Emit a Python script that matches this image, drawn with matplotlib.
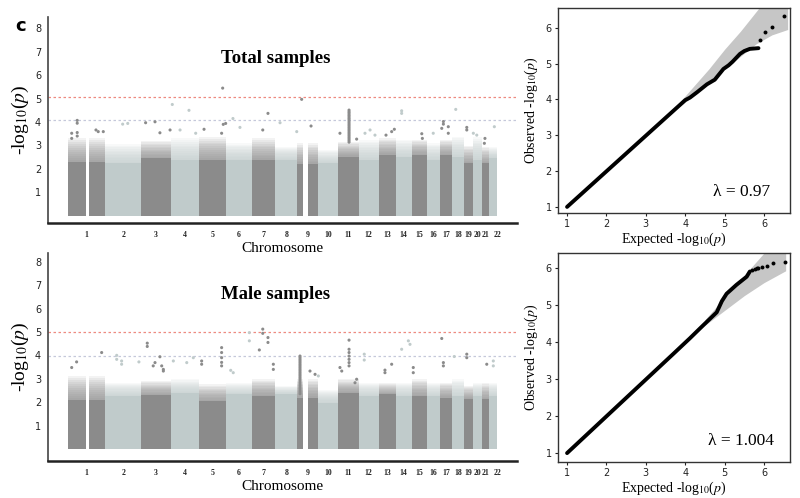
import numpy as np
import matplotlib
matplotlib.use('Agg')
import matplotlib.pyplot as plt

plt.rcParams['mathtext.fontset'] = 'stix'

# chromosome sizes (Mb) and centromere gaps without markers
chrom_names = ['1', '2', '3', '4', '5', '6', '7', '8', '9', '10', '11',
               '12', '13', '14', '15', '16', '17', '18', '19', '20', '21', '22']
chrom_len = [249, 243, 198, 191, 181, 171, 159, 146, 141, 136, 135,
             134, 115, 107, 103, 90, 81, 78, 59, 63, 48, 51]
chrom_gaps = {1: (122, 143), 9: (39, 70)}

# height of the dense bulk of SNPs per chromosome (solid part, then thinning part)
total_solid = [2.3, 2.24, 2.45, 2.38, 2.38, 2.38, 2.38, 2.38, 2.2, 2.23, 2.52,
               2.38, 2.6, 2.5, 2.6, 2.38, 2.6, 2.5, 2.23, 2.38, 2.23, 2.45]
total_fuzzy = [3.3, 3.05, 3.2, 3.3, 3.37, 3.09, 3.3, 2.94, 3.1, 2.8, 3.15,
               3.23, 3.3, 3.23, 3.23, 3.09, 3.23, 3.37, 2.98, 3.37, 2.94, 2.94]
male_solid = [2.1, 2.26, 2.3, 2.4, 2.05, 2.33, 2.26, 2.33, 2.2, 1.98, 2.4,
              2.26, 2.33, 2.26, 2.26, 2.26, 2.2, 2.26, 2.12, 2.26, 2.12, 2.26]
male_fuzzy = [3.1, 2.83, 2.9, 2.98, 2.76, 2.83, 2.98, 2.69, 2.98, 2.54, 2.98,
              2.83, 2.83, 2.83, 2.98, 2.83, 2.83, 2.98, 2.69, 2.83, 2.83, 2.83]

# isolated SNPs above the bulk: (chromosome, position Mb, -log10 p)
total_hits = [
    (1, 25, 3.52), (1, 25, 3.3), (1, 62, 4.07), (1, 62, 3.95), (1, 62, 3.55), (1, 62, 3.4),
    (1, 188, 3.66), (1, 203, 3.59), (1, 237, 3.59), (2, 118, 3.91), (2, 152, 3.94),
    (3, 29, 3.97), (3, 92, 4.01), (3, 125, 3.54), (3, 193, 3.66),
    (4, 10, 4.75), (4, 62, 3.66), (4, 122, 4.5), (4, 167, 3.52),
    (5, 32, 3.69), (5, 150, 3.52), (5, 157, 5.45), (5, 161, 3.9), (5, 177, 3.94),
    (6, 45, 4.15), (6, 92, 3.77), (7, 74, 3.66), (7, 109, 4.37), (8, 31, 3.97), (8, 143, 3.59),
    (9, 30, 4.97), (9, 93, 3.83), (11, 10, 3.52), (11, 122, 3.27),
    (11, 71, 4.51), (11, 71, 4.44), (11, 71, 4.38), (11, 71, 4.31), (11, 71, 4.25),
    (11, 71, 4.18), (11, 71, 4.12), (11, 71, 4.05), (11, 71, 3.98), (11, 71, 3.91),
    (11, 71, 3.84), (11, 71, 3.77), (11, 71, 3.7), (11, 71, 3.63), (11, 71, 3.56),
    (11, 71, 3.49), (11, 71, 3.42), (11, 71, 3.35), (11, 71, 3.28), (11, 71, 3.21), (11, 71, 3.14),
    (12, 43, 3.52), (12, 77, 3.66), (12, 110, 3.44), (13, 50, 3.44), (13, 88, 3.59), (13, 106, 3.69),
    (14, 40, 4.48), (14, 40, 4.37), (15, 68, 3.5), (15, 72, 3.3), (16, 42, 3.52),
    (17, 9, 3.73), (17, 20, 4.02), (17, 20, 3.91), (17, 53, 3.52), (17, 53, 3.8),
    (18, 22, 4.54), (19, 18, 3.77), (19, 18, 3.66), (20, 3, 3.52), (20, 26, 3.44),
    (21, 14, 3.09), (21, 18, 3.3), (22, 33, 3.8),
]
male_hits = [
    (1, 25, 3.48), (1, 58, 3.72), (1, 226, 4.12), (2, 78, 4.0), (2, 78, 3.83),
    (2, 111, 3.76), (2, 111, 3.62), (2, 227, 3.72),
    (3, 40, 4.52), (3, 40, 4.38), (3, 80, 3.55), (3, 92, 3.69), (3, 125, 3.94),
    (3, 137, 3.55), (3, 148, 3.4), (3, 148, 3.33),
    (4, 17, 3.76), (4, 107, 3.69), (4, 151, 3.9),
    (5, 16, 3.76), (5, 16, 3.62), (5, 150, 4.33), (5, 150, 4.12), (5, 150, 3.9),
    (5, 150, 3.7), (5, 150, 3.55), (6, 30, 3.36), (6, 47, 3.26), (6, 155, 4.97), (6, 155, 4.62),
    (7, 51, 4.23), (7, 74, 5.12), (7, 74, 4.94), (7, 109, 4.76), (7, 109, 4.55),
    (7, 145, 3.62), (7, 145, 3.4),
    (9, 19, 3.97), (9, 19, 3.9), (9, 19, 3.83), (9, 19, 3.76), (9, 19, 3.69), (9, 19, 3.62),
    (9, 19, 3.55), (9, 19, 3.48), (9, 19, 3.41), (9, 19, 3.34), (9, 19, 3.27), (9, 19, 3.2),
    (9, 19, 3.13), (9, 19, 3.06), (9, 19, 2.99), (9, 19, 2.92), (9, 19, 2.85), (9, 19, 2.78),
    (9, 19, 2.71), (9, 19, 2.64), (9, 19, 2.57), (9, 19, 2.5), (9, 19, 2.43), (9, 19, 2.36),
    (9, 86, 3.33), (9, 120, 3.19), (10, 1, 3.12),
    (11, 10, 3.48), (11, 22, 3.33), (11, 71, 4.65), (11, 71, 4.26), (11, 71, 4.12),
    (11, 71, 3.97), (11, 71, 3.83), (11, 71, 3.69), (11, 71, 3.55), (11, 111, 2.83), (11, 122, 2.98),
    (12, 38, 4.05), (12, 38, 3.8), (13, 43, 3.37), (13, 43, 3.26), (13, 88, 3.62),
    (14, 40, 4.26), (14, 85, 4.62), (14, 96, 4.47), (15, 11, 3.48), (15, 11, 3.26),
    (17, 9, 4.72), (17, 20, 3.69), (17, 20, 3.55), (18, 12, 3.95),
    (19, 18, 4.05), (19, 18, 3.9), (21, 30, 3.62), (22, 26, 3.76), (22, 26, 3.55),
]

# QQ plots: observed curve, top single points, confidence band
total_qq_exp = [1.0, 4.0, 4.12, 4.3, 4.55, 4.75, 4.97, 5.1, 5.2, 5.39, 5.5, 5.64, 5.86]
total_qq_obs = [1.0, 3.98, 4.05, 4.2, 4.42, 4.55, 4.85, 4.95, 5.05, 5.27, 5.35, 5.41, 5.43]
total_top_exp = [5.9, 6.03, 6.2, 6.51]
total_top_obs = [5.66, 5.87, 6.01, 6.33]
total_band_x = [3.8, 4.2, 4.6, 5.0, 5.4, 5.8, 6.2, 6.6]
total_band_lo = [3.75, 4.1, 4.5, 4.85, 5.2, 5.55, 5.8, 5.95]
total_band_hi = [3.85, 4.35, 4.85, 5.4, 5.9, 6.45, 7.0, 7.5]
total_lambda = '0.97'

male_qq_exp = [1.0, 3.7, 4.12, 4.38, 4.8, 4.93, 5.05, 5.3, 5.56, 5.64]
male_qq_obs = [1.0, 3.68, 4.1, 4.37, 4.8, 5.1, 5.3, 5.54, 5.76, 5.9]
male_top_exp = [5.7, 5.76, 5.81, 5.86, 5.94, 6.07, 6.24, 6.53]
male_top_obs = [5.95, 5.97, 5.99, 6.0, 6.02, 6.05, 6.13, 6.17]
male_band_x = [4.5, 5.0, 5.5, 6.0, 6.55]
male_band_lo = [4.45, 4.85, 5.25, 5.6, 5.92]
male_band_hi = [4.6, 5.2, 5.8, 6.4, 7.0]
male_lambda = '1.004'

DARK = '#8b8b8b'
LIGHT = '#c0cbcb'
SERIF = 'Liberation Serif'
N_FADE = 12

offsets = np.concatenate([[0], np.cumsum(chrom_len)[:-1]])
mids = offsets + np.array(chrom_len) / 2


def chrom_colour(c):
    return DARK if c % 2 == 1 else LIGHT


def draw_manhattan(ax, solid, fuzzy, hits, red_y, grey_y, title, ylim):
    for i, (length, s, f) in enumerate(zip(chrom_len, solid, fuzzy)):
        c = i + 1
        x0 = offsets[i]
        spans = [(x0, x0 + length)]
        if c in chrom_gaps:
            g0, g1 = chrom_gaps[c]
            spans = [(x0, x0 + g0), (x0 + g1, x0 + length)]
        col = chrom_colour(c)
        for a, b in spans:
            ax.fill_between([a, b], 0, s, color=col, lw=0)
            # thinning cloud above the bulk, drawn as a soft fade
            for k in range(N_FADE):
                ax.fill_between([a, b], s, s + (f - s) * (k + 1) / N_FADE,
                                color=col, alpha=0.1, lw=0)

    hx = [offsets[c - 1] + pos for c, pos, v in hits]
    hy = [v for c, pos, v in hits]
    hc = [chrom_colour(c) for c, pos, v in hits]
    ax.scatter(hx, hy, s=5, c=hc, lw=0, zorder=3)

    ax.axhline(red_y, color='#ee8a80', ls=(0, (2, 2)), lw=0.9)
    ax.axhline(grey_y, color='#c5c8da', ls=(0, (2, 2)), lw=0.9)

    ax.set_xlim(-134, 3013)
    ax.set_ylim(*ylim)
    ax.set_xticks(mids)
    ax.set_xticklabels(chrom_names, family=SERIF, fontsize=5.6, fontweight='bold', color='#222')
    # the last label is pushed right so "21" and "22" sit back to back
    ax.get_xticklabels()[-1].set_ha('left')
    ax.set_yticks(range(1, 9))
    ax.set_yticklabels([str(i) for i in range(1, 9)], fontsize=7, color='#222')
    ax.tick_params(length=0)
    ax.tick_params(axis='x', pad=6)
    ax.tick_params(axis='y', pad=5)
    for side in ['top', 'right']:
        ax.spines[side].set_visible(False)
    ax.spines['left'].set_linewidth(1.2)
    ax.spines['left'].set_color('#444')
    ax.spines['bottom'].set_linewidth(1.8)
    ax.spines['bottom'].set_color('#222')
    ax.set_xlabel('Chromosome', family=SERIF, fontsize=11, labelpad=2)
    ax.set_ylabel(r'-log$_{10}$($p$)', family=SERIF, fontsize=14, labelpad=3)
    ax.text(0.485, 0.8, title, transform=ax.transAxes, ha='center', va='center',
            family=SERIF, fontweight='bold', fontsize=13.5)


def draw_qq(ax, qx, qy, tx, ty, bx, blo, bhi, lam, ylim):
    ax.fill_between(bx, blo, bhi, color='#c6c6c6', lw=0)
    ax.plot(qx, qy, color='k', lw=2.8, solid_capstyle='round', solid_joinstyle='round')
    ax.scatter(tx, ty, s=8, color='k', lw=0, zorder=3)
    ax.set_xlim(0.77, 6.66)
    ax.set_ylim(*ylim)
    ax.set_xticks(range(1, 7))
    ax.set_yticks(range(1, 7))
    ax.tick_params(labelsize=7, length=2.5, width=0.8, colors='#222', pad=2)
    for sp in ax.spines.values():
        sp.set_linewidth(1.0)
        sp.set_color('#333')
    ax.set_xlabel(r'Expected -log$_{10}$($p$)', family=SERIF, fontsize=10, labelpad=1)
    ax.set_ylabel(r'Observed -log$_{10}$($p$)', family=SERIF, fontsize=10, labelpad=4)
    ax.text(0.79, 0.1, '\u03bb = ' + lam, transform=ax.transAxes, ha='center', va='center',
            family=SERIF, fontsize=12.5)


fig = plt.figure(figsize=(8, 4.98), dpi=100)

ax1 = fig.add_axes([0.06, 0.5522, 0.58625, 0.4137])
draw_manhattan(ax1, total_solid, total_fuzzy, total_hits, 5.07, 4.07, 'Total samples', (-0.316, 8.49))

ax2 = fig.add_axes([0.06, 0.0743, 0.58625, 0.4177])
draw_manhattan(ax2, male_solid, male_fuzzy, male_hits, 4.98, 3.96, 'Male samples', (-0.51, 8.37))

ax3 = fig.add_axes([0.6975, 0.5723, 0.29, 0.4116])
draw_qq(ax3, total_qq_exp, total_qq_obs, total_top_exp, total_top_obs,
        total_band_x, total_band_lo, total_band_hi, total_lambda, (0.83, 6.55))

ax4 = fig.add_axes([0.6975, 0.0723, 0.29, 0.4197])
draw_qq(ax4, male_qq_exp, male_qq_obs, male_top_exp, male_top_obs,
        male_band_x, male_band_lo, male_band_hi, male_lambda, (0.76, 6.4))

fig.text(0.026, 0.948, 'c', fontsize=13, fontweight='bold', ha='center', va='center')

fig.savefig('out.png', dpi=100)
